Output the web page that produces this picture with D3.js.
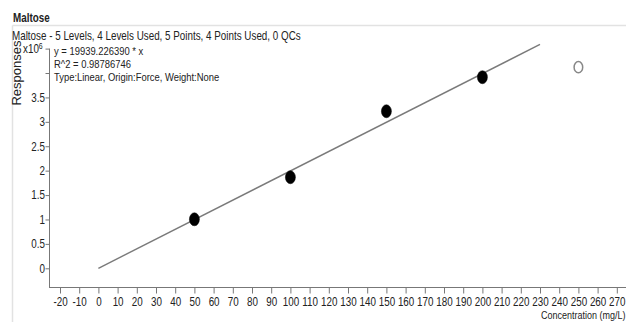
<!DOCTYPE html>
<html>
<head>
<meta charset="utf-8">
<script src="https://cdn.jsdelivr.net/npm/d3@7"></script>
<style>
  html, body { margin: 0; padding: 0; background: #fff; }
  svg { display: block; }
  text { font-family: "Liberation Sans", Arial, sans-serif; fill: #222; }
</style>
</head>
<body>
<svg id="chart" width="626" height="322"></svg>
<script>
// Calibration levels (mg/L) and measured responses
const concentrations = [50, 100, 150, 200, 250];
const responses = [1.004e6, 1.865e6, 3.217e6, 3.914e6, 4.12e6];
const levelUsed = [true, true, true, true, false];

// Forced-origin linear fit
const slope = 19939.226390;
const fitRange = [0, 230];

const xTicks = d3.range(-20, 271, 10);
const yTicks = d3.range(0, 4.51, 0.5);
const yTickLabels = ["0", "0.5", "1", "1.5", "2", "2.5", "3", "3.5", "", ""];

const title = "Maltose";
const subtitle = "Maltose - 5 Levels, 4 Levels Used, 5 Points, 4 Points Used, 0 QCs";
const fitText = ["y = 19939.226390 * x", "R^2 = 0.98786746", "Type:Linear, Origin:Force, Weight:None"];

// horizontal squeeze that gives the narrow report typeface
const NARROW = 0.82;

const svg = d3.select("#chart");

const x = d3.scaleLinear().domain([-20, 270]).range([60, 616.8]);
const y = d3.scaleLinear().domain([0, 4.5e6]).range([268.3, 48.6]);

function label(parent, px, py, str, size, opts = {}) {
  const t = parent.append("text")
    .attr("transform", `translate(${px},${py}) scale(${opts.squeeze ?? NARROW},1)`)
    .attr("font-size", size)
    .text(str);
  if (opts.bold) t.attr("font-weight", "bold");
  if (opts.anchor) t.attr("text-anchor", opts.anchor);
  return t;
}

// panel frame
svg.append("line").attr("x1", 12.5).attr("x2", 626).attr("y1", 25.5).attr("y2", 25.5)
  .attr("stroke", "#e2e2e2").attr("stroke-width", 1.5);
svg.append("line").attr("x1", 12.5).attr("x2", 12.5).attr("y1", 25.5).attr("y2", 322)
  .attr("stroke", "#e2e2e2").attr("stroke-width", 1.5);

label(svg, 13, 22, title, 12, { bold: true });
label(svg, 12, 40, subtitle, 12);

// y axis
const yAxis = d3.axisLeft(y).tickValues(yTicks.map(v => v * 1e6)).tickSize(4).tickPadding(1.5)
  .tickFormat((d, i) => yTickLabels[i]);
const gy = svg.append("g").attr("transform", "translate(49.5,0)").call(yAxis);
gy.select(".domain").remove();
gy.append("line").attr("x1", 0).attr("x2", 0).attr("y1", y(4.5e6)).attr("y2", 287)
  .attr("stroke", "#777");
gy.selectAll(".tick line").attr("stroke", "#777");
gy.selectAll(".tick text").attr("font-size", 12).attr("fill", "#222")
  .attr("font-family", "'Liberation Sans', Arial, sans-serif")
  .attr("transform", `scale(${NARROW},1)`);

// x axis
const xAxis = d3.axisBottom(x).tickValues(xTicks).tickSize(6).tickPadding(4)
  .tickFormat(d => String(d));
const gx = svg.append("g").attr("transform", "translate(0,287.5)").call(xAxis);
gx.select(".domain").remove();
gx.append("line").attr("x1", 49).attr("x2", 626).attr("y1", 0).attr("y2", 0).attr("stroke", "#777");
gx.selectAll(".tick line").attr("stroke", "#777");
gx.selectAll(".tick text").attr("font-size", 12).attr("fill", "#222")
  .attr("font-family", "'Liberation Sans', Arial, sans-serif")
  .attr("transform", `scale(${NARROW},1)`);

// axis titles
svg.append("text").attr("transform", "translate(21,73) rotate(-90)").attr("text-anchor", "middle")
  .attr("font-size", 13).text("Responses");
const mult = svg.append("text")
  .attr("transform", `translate(23,53) scale(${NARROW},1)`).attr("font-size", 12);
mult.append("tspan").text("x10");
mult.append("tspan").attr("dy", -4.5).attr("font-size", 8.5).text("6");
label(svg, 541, 319, "Concentration (mg/L)", 11);

// fit equation
fitText.forEach((s, i) => label(svg, 54, 55 + i * 13, s, 11.5));

// regression line
svg.append("line")
  .attr("x1", x(fitRange[0])).attr("y1", y(slope * fitRange[0]))
  .attr("x2", x(fitRange[1])).attr("y2", y(slope * fitRange[1]))
  .attr("stroke", "#7a7a7a").attr("stroke-width", 1.4);

// calibration points
const pts = concentrations.map((c, i) => ({ c, r: responses[i], used: levelUsed[i] }));
svg.selectAll("ellipse.pt").data(pts).join("ellipse").attr("class", "pt")
  .attr("cx", d => x(d.c)).attr("cy", d => y(d.r))
  .attr("rx", d => d.used ? 5 : 4.3).attr("ry", d => d.used ? 6.5 : 5.6)
  .attr("fill", d => d.used ? "#000" : "none")
  .attr("stroke", d => d.used ? "#000" : "#888")
  .attr("stroke-width", d => d.used ? 0.5 : 1.5);
</script>
</body>
</html>
